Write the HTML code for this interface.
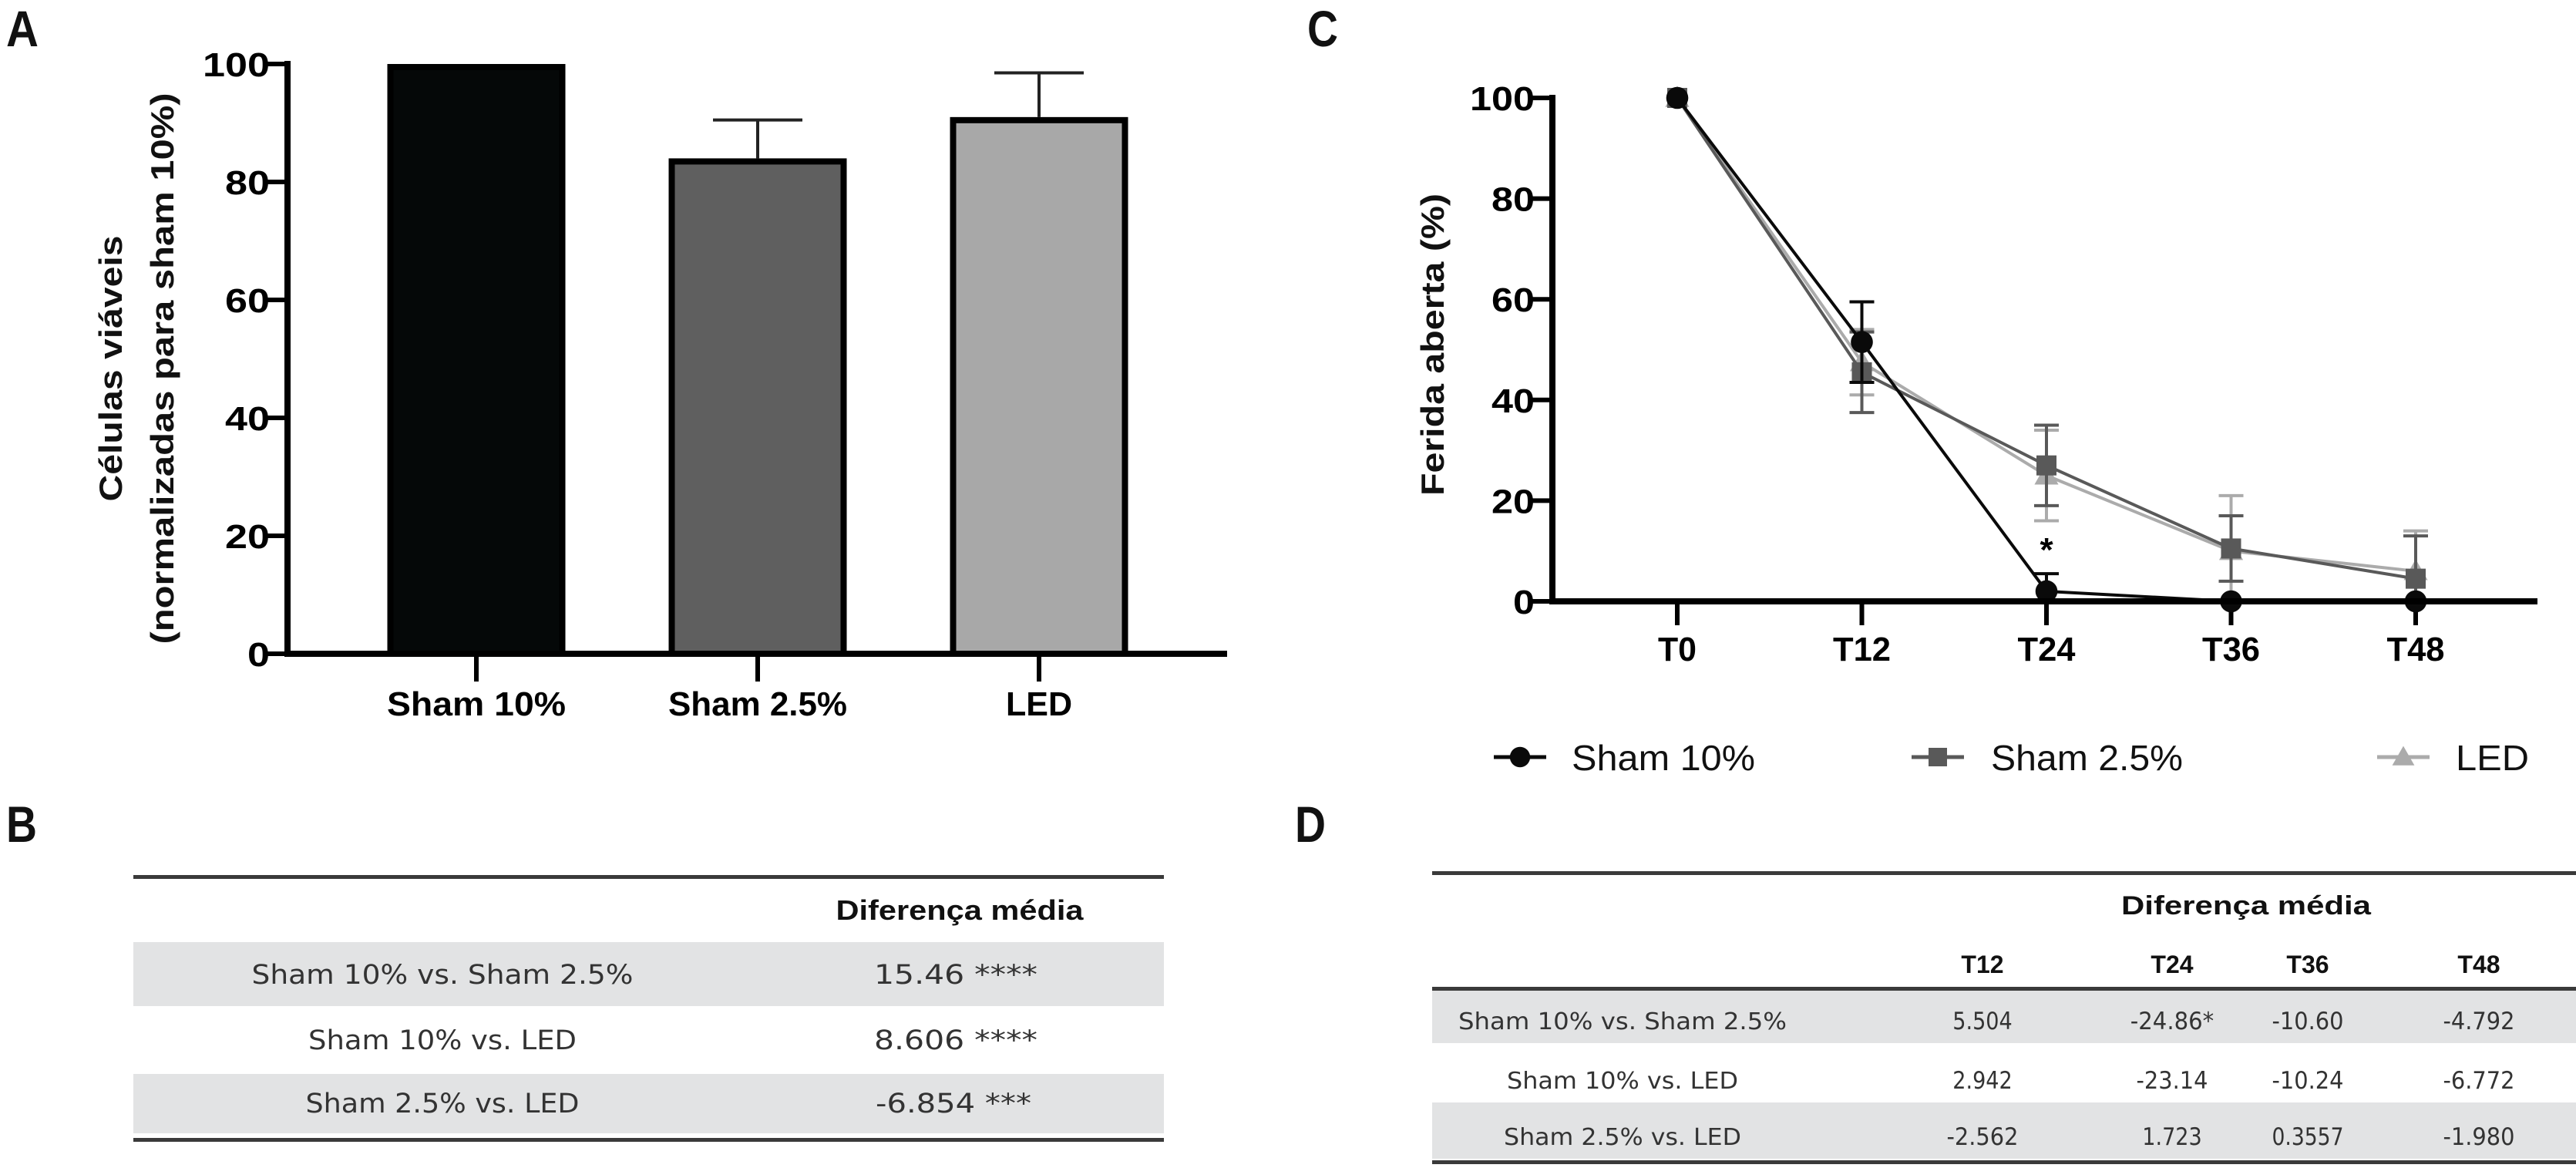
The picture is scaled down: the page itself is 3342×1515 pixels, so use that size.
<!DOCTYPE html>
<html><head><meta charset="utf-8"><style>
html,body{margin:0;padding:0;background:#fff;width:3342px;height:1515px;overflow:hidden}
svg{display:block}
.tk{font-family:"Liberation Sans",sans-serif;font-weight:bold;font-size:44px;fill:#000}
.tb{font-family:"DejaVu Sans","Liberation Sans",sans-serif;fill:#333}
.hd{font-family:"Liberation Sans",sans-serif;font-weight:bold;fill:#111}
</style></head><body>
<svg id="fig" width="3342" height="1515" viewBox="0 0 3342 1515" xmlns="http://www.w3.org/2000/svg">
<text x="8" y="60" class="hd" font-size="66" textLength="42" lengthAdjust="spacingAndGlyphs">A</text>
<text x="1696" y="60" class="hd" font-size="66" textLength="40" lengthAdjust="spacingAndGlyphs">C</text>
<text x="8" y="1092" class="hd" font-size="66" textLength="40" lengthAdjust="spacingAndGlyphs">B</text>
<text x="1680" y="1092" class="hd" font-size="66" textLength="40" lengthAdjust="spacingAndGlyphs">D</text>

<g id="chartA">
<text transform="translate(158,478) rotate(-90)" text-anchor="middle" class="hd" font-size="42" textLength="345" lengthAdjust="spacingAndGlyphs">Células viáveis</text>
<text transform="translate(225,478) rotate(-90)" text-anchor="middle" class="hd" font-size="42" textLength="715" lengthAdjust="spacingAndGlyphs">(normalizadas para sham 10%)</text>
</g>
<g id="chartC">
<text transform="translate(1873,447) rotate(-90)" text-anchor="middle" class="hd" font-size="42" textLength="392" lengthAdjust="spacingAndGlyphs">Ferida aberta (%)</text>
</g>

<!-- Table B -->
<g>
<rect x="173" y="1135" width="1337" height="5" fill="#3a3a3a"/>
<text x="1245" y="1193" text-anchor="middle" class="hd" font-size="36" textLength="321" lengthAdjust="spacingAndGlyphs">Diferença média</text>
<rect x="173" y="1222" width="1337" height="83" fill="#e2e3e4"/>
<rect x="173" y="1393" width="1337" height="77" fill="#e2e3e4"/>
<rect x="173" y="1476" width="1337" height="5" fill="#3a3a3a"/>
<text x="574" y="1276" text-anchor="middle" class="tb" font-size="35" textLength="495" lengthAdjust="spacingAndGlyphs">Sham 10% vs. Sham 2.5%</text>
<text x="574" y="1361" text-anchor="middle" class="tb" font-size="35" textLength="348" lengthAdjust="spacingAndGlyphs">Sham 10% vs. LED</text>
<text x="574" y="1443" text-anchor="middle" class="tb" font-size="35" textLength="355" lengthAdjust="spacingAndGlyphs">Sham 2.5% vs. LED</text>
<text x="1240" y="1276" text-anchor="middle" class="tb" font-size="35" textLength="212" lengthAdjust="spacingAndGlyphs">15.46 ****</text>
<text x="1240" y="1361" text-anchor="middle" class="tb" font-size="35" textLength="212" lengthAdjust="spacingAndGlyphs">8.606 ****</text>
<text x="1237" y="1443" text-anchor="middle" class="tb" font-size="35" textLength="202" lengthAdjust="spacingAndGlyphs">-6.854 ***</text>
</g>

<!-- Table D -->
<g>
<rect x="1858" y="1130" width="1484" height="5" fill="#3a3a3a"/>
<text x="2914" y="1186" text-anchor="middle" class="hd" font-size="34" textLength="324" lengthAdjust="spacingAndGlyphs">Diferença média</text>
<text x="2572" y="1262" text-anchor="middle" class="hd" font-size="32">T12</text>
<text x="2818" y="1262" text-anchor="middle" class="hd" font-size="32">T24</text>
<text x="2994" y="1262" text-anchor="middle" class="hd" font-size="32">T36</text>
<text x="3216" y="1262" text-anchor="middle" class="hd" font-size="32">T48</text>
<rect x="1858" y="1280" width="1484" height="5" fill="#3a3a3a"/>
<rect x="1858" y="1285" width="1484" height="68" fill="#e2e3e4"/>
<rect x="1858" y="1430" width="1484" height="73" fill="#e2e3e4"/>
<rect x="1858" y="1505" width="1484" height="5" fill="#3a3a3a"/>
<text x="2105" y="1335" text-anchor="middle" class="tb" font-size="30" textLength="426" lengthAdjust="spacingAndGlyphs">Sham 10% vs. Sham 2.5%</text>
<text x="2105" y="1412" text-anchor="middle" class="tb" font-size="30" textLength="300" lengthAdjust="spacingAndGlyphs">Sham 10% vs. LED</text>
<text x="2105" y="1485" text-anchor="middle" class="tb" font-size="30" textLength="308" lengthAdjust="spacingAndGlyphs">Sham 2.5% vs. LED</text>
<g id="tdvals"></g>
</g>
</svg>
<script>
// ---------- Panel A data ----------
const barCategories = ["Sham 10%", "Sham 2.5%", "LED"];
const barValues = [100, 84, 91];
const barErrors = [0, 6.5, 7.5];
const barYTicks = [0, 20, 40, 60, 80, 100];
// ---------- Panel C data ----------
const timeCategories = ["T0", "T12", "T24", "T36", "T48"];
const sham10Values = [100, 51.5, 2, 0, 0];
const sham10Errors = [0, 8, 3.5, 0, 0];
const sham25Values = [100, 45.5, 27, 10.5, 4.5];
const sham25Errors = [0, 8, 8, 6.5, 8.5];
const ledValues = [100, 47.5, 25, 10, 6];
const ledErrors = [0, 6.5, 9, 11, 8];
const lineYTicks = [0, 20, 40, 60, 80, 100];
// ---------- Table D data ----------
const tableDRows = [["5.504", "-24.86*", "-10.60", "-4.792"], ["2.942", "-23.14", "-10.24", "-6.772"], ["-2.562", "1.723", "0.3557", "-1.980"]];

const NS = "http://www.w3.org/2000/svg";
function mk(parent, tag, attrs, text) {
  const el = document.createElementNS(NS, tag);
  for (const k in attrs) el.setAttribute(k, attrs[k]);
  if (text !== undefined) el.textContent = text;
  parent.appendChild(el);
  return el;
}

// ---------- Panel A ----------
const gA = document.getElementById("chartA");
const aY0 = 848, aY100 = 83, aAxisX = 373;
const ayScale = v => aY0 - (v / 100) * (aY0 - aY100);
const aCenters = [618, 982, 1348];
const axScale = i => aCenters[0] + i * (aCenters[2] - aCenters[0]) / (barCategories.length - 1);
const barW = 231;
barValues.forEach((v, i) => {
  const fills = ["#050808", "#5f5f5f", "#a8a8a8"];
  const cx = axScale(i);
  if (barErrors[i] > 0) {
    const eTop = ayScale(v + barErrors[i]);
    const el = mk(gA, "line", {x1: cx, x2: cx, y1: eTop, y2: ayScale(v), stroke: "#222", "stroke-width": 4});
    
    
    const cap = mk(gA, "line", {x1: cx - 58, x2: cx + 58, y1: eTop, y2: eTop, stroke: "#222", "stroke-width": 4});
    
    
  }
  const r = mk(gA, "rect", {x: cx - barW / 2 + 4, y: ayScale(v) + 4, width: barW - 8, height: aY0 - ayScale(v) - 4, fill: fills[i], stroke: "#000", "stroke-width": 8});
  
  
  const t = mk(gA, "text", {x: cx, y: 928, "text-anchor": "middle", class: "tk", textLength: i === 2 ? 86 : 232, lengthAdjust: "spacingAndGlyphs"}, barCategories[i]);
  
  
  const tk = mk(gA, "line", {x1: cx, x2: cx, y1: aY0, y2: 884, stroke: "#000", "stroke-width": 6});
  
  
});
let axA = mk(gA, "line", {x1: aAxisX, x2: aAxisX, y1: aY100 - 4, y2: aY0 + 4, stroke: "#000", "stroke-width": 8});


let axAx = mk(gA, "line", {x1: aAxisX - 4, x2: 1592, y1: aY0, y2: aY0, stroke: "#000", "stroke-width": 8});


barYTicks.forEach(v => {
  const y = ayScale(v);
  const l = mk(gA, "line", {x1: aAxisX - 30, x2: aAxisX, y1: y, y2: y, stroke: "#000", "stroke-width": 6});
  
  
  const t = mk(gA, "text", {x: 350, y: y + 16, "text-anchor": "end", class: "tk", textLength: String(v).length * 29, lengthAdjust: "spacingAndGlyphs"}, String(v));
  
  
});

// ---------- Panel C ----------
const gC = document.getElementById("chartC");
const cY0 = 780, cY100 = 127, cAxisX = 2014;
const cyScale = v => cY0 - (v / 100) * (cY0 - cY100);
const cxScale = i => 2176 + i * 239.5;
lineYTicks.forEach(v => {
  const y = cyScale(v);
  const l = mk(gC, "line", {x1: cAxisX - 28, x2: cAxisX, y1: y, y2: y, stroke: "#000", "stroke-width": 6});
  
  
  const t = mk(gC, "text", {x: 1991, y: y + 16, "text-anchor": "end", class: "tk", textLength: String(v).length * 28, lengthAdjust: "spacingAndGlyphs"}, String(v));
  
  
});
timeCategories.forEach((c, i) => {
  const x = cxScale(i);
  const l = mk(gC, "line", {x1: x, x2: x, y1: cY0, y2: 811, stroke: "#000", "stroke-width": 6});
  
  
  const t = mk(gC, "text", {x: x, y: 857, "text-anchor": "middle", class: "tk", textLength: c.length * 25, lengthAdjust: "spacingAndGlyphs"}, c);
  
  
});
const seriesList = [
  {name: "led", vals: ledValues, errs: ledErrors, color: "#ababab", shape: "tri"},
  {name: "sham-2-5", vals: sham25Values, errs: sham25Errors, color: "#595959", shape: "sq"},
  {name: "sham-10", vals: sham10Values, errs: sham10Errors, color: "#0a0a0a", shape: "circ"}
];
function marker(g, shape, x, y, color, s) {
  let m;
  if (shape === "circ") m = mk(g, "circle", {cx: x, cy: y, r: s * 0.55, fill: color});
  else if (shape === "sq") m = mk(g, "rect", {x: x - s / 2, y: y - s / 2, width: s, height: s, fill: color});
  else m = mk(g, "polygon", {points: `${x},${y - s * 0.6} ${x - s * 0.6},${y + s * 0.45} ${x + s * 0.6},${y + s * 0.45}`, fill: color});
  return m;
}
seriesList.forEach(s => {
  s.vals.forEach((v, i) => {
    if (s.errs[i] > 0) {
      const x = cxScale(i), yt = cyScale(v + s.errs[i]), yb = cyScale(Math.max(0, v - s.errs[i]));
      const e = mk(gC, "path", {d: `M${x},${yt}V${yb}M${x - 16},${yt}H${x + 16}M${x - 16},${yb}H${x + 16}`, stroke: s.color, "stroke-width": 4, fill: "none"});
      
      
    }
  });
  const pts = s.vals.map((v, i) => cxScale(i) + "," + cyScale(v)).join(" ");
  const pl = mk(gC, "polyline", {points: pts, fill: "none", stroke: s.color, "stroke-width": 4});
  
  
  s.vals.forEach((v, i) => {
    const m = marker(gC, s.shape, cxScale(i), cyScale(v), s.color, 26);
    
    
  });
});
let axC = mk(gC, "line", {x1: cAxisX, x2: cAxisX, y1: cY100 - 4, y2: cY0 + 4, stroke: "#000", "stroke-width": 8});


let axCx = mk(gC, "line", {x1: cAxisX - 4, x2: 3292, y1: cY0, y2: cY0, stroke: "#000", "stroke-width": 8});


let star = mk(gC, "text", {x: cxScale(2), y: cyScale(8), "text-anchor": "middle", class: "tk", "font-size": 40}, "*");


// legend
const legendItems = [
  {label: "Sham 10%", color: "#0a0a0a", shape: "circ", x: 1972, tx: 2039, w: 238},
  {label: "Sham 2.5%", color: "#595959", shape: "sq", x: 2514, tx: 2583, w: 249},
  {label: "LED", color: "#ababab", shape: "tri", x: 3118, tx: 3186, w: 95}
];
legendItems.forEach(it => {
  const g = mk(gC, "g", {});
  
  
  const l = mk(g, "line", {x1: it.x - 34, x2: it.x + 34, y1: 982, y2: 982, stroke: it.color, "stroke-width": 5});
  
  
  const m = marker(g, it.shape, it.x, 982, it.color, 24);
  
  
  const t = mk(g, "text", {x: it.tx, y: 999, "font-family": "Liberation Sans, sans-serif", "font-size": 46, fill: "#111", textLength: it.w, lengthAdjust: "spacingAndGlyphs"}, it.label);
  
  
});

// ---------- Table D values ----------
const gD = document.getElementById("tdvals");
const colX = [2572, 2818, 2994, 3216];
const rowY = [1335, 1412, 1485];
tableDRows.forEach((row, r) => {
  row.forEach((val, c) => {
    const t = mk(gD, "text", {x: colX[c], y: rowY[r], "text-anchor": "middle", class: "tb", "font-size": 31, textLength: val.length * 15.5, lengthAdjust: "spacingAndGlyphs"}, val);
    
    
  });
});
</script>
</body></html>
